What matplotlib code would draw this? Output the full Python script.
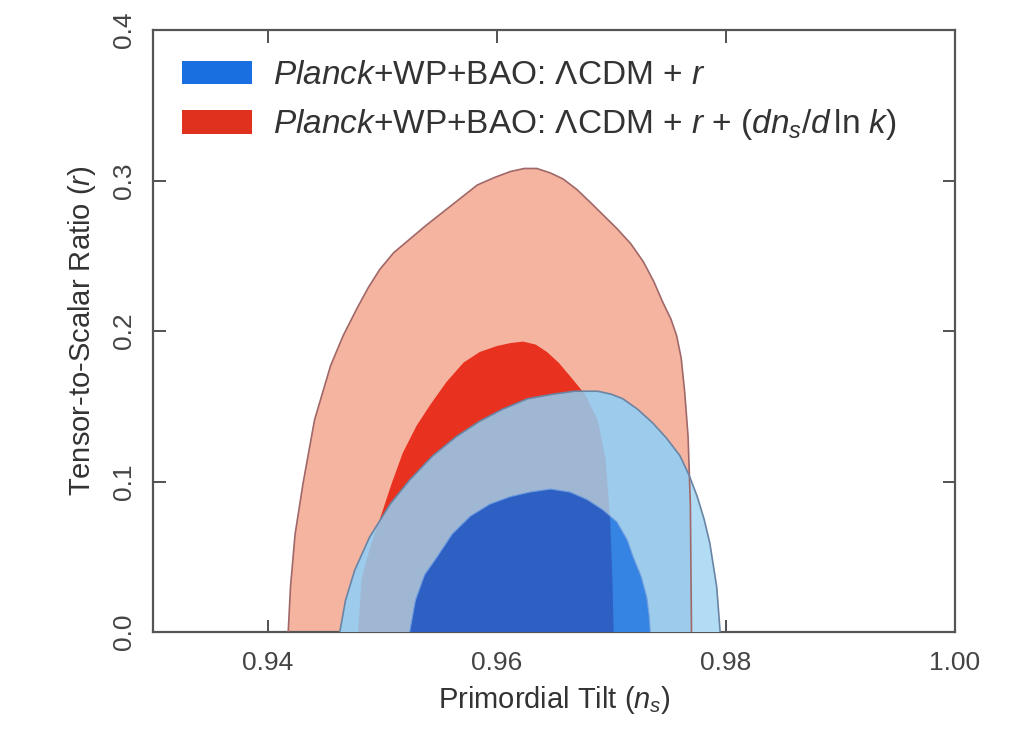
import numpy as np
import matplotlib
matplotlib.use("Agg")
import matplotlib.pyplot as plt
from matplotlib.patches import Polygon, Patch

plt.rcParams['font.family'] = ['Liberation Sans', 'DejaVu Sans']
plt.rcParams['mathtext.fontset'] = 'custom'
plt.rcParams['mathtext.rm'] = 'Liberation Sans'
plt.rcParams['mathtext.it'] = 'Liberation Sans:italic'
plt.rcParams['mathtext.bf'] = 'Liberation Sans:bold'

# contour outlines (n_s, r)
red_outer_x = [0.9418, 0.9420, 0.9424, 0.9431, 0.9441, 0.9455, 0.9466, 0.9478, 0.9488,
               0.9498, 0.9510, 0.9524, 0.9538, 0.9553, 0.9568, 0.9583, 0.9598, 0.9612,
               0.9624, 0.9635, 0.9647, 0.9658, 0.9670, 0.9681, 0.9693, 0.9705, 0.9717,
               0.9728, 0.9737, 0.9745, 0.9752, 0.9757, 0.9761, 0.9764, 0.9767, 0.9769,
               0.9770]
red_outer_y = [0.0, 0.030, 0.065, 0.099, 0.141, 0.177, 0.197, 0.215, 0.229,
               0.241, 0.252, 0.261, 0.270, 0.279, 0.288, 0.297, 0.302, 0.306,
               0.308, 0.308, 0.305, 0.301, 0.294, 0.286, 0.277, 0.268, 0.258,
               0.246, 0.233, 0.219, 0.208, 0.197, 0.182, 0.160, 0.130, 0.085,
               0.0]

red_inner_x = [0.9479, 0.9482, 0.9489, 0.9498, 0.9508, 0.9518, 0.9530, 0.9542, 0.9556,
               0.9571, 0.9585, 0.9600, 0.9612, 0.9623, 0.9634, 0.9644, 0.9654, 0.9664,
               0.9677, 0.9688, 0.9695, 0.9699, 0.9701, 0.9702]
red_inner_y = [0.0, 0.035, 0.055, 0.075, 0.098, 0.119, 0.137, 0.151, 0.166,
               0.179, 0.186, 0.190, 0.192, 0.193, 0.191, 0.186, 0.179, 0.170,
               0.158, 0.141, 0.115, 0.075, 0.035, 0.0]

blue_outer_x = [0.9463, 0.9468, 0.9476, 0.9489, 0.9507, 0.9524, 0.9544, 0.9565, 0.9585,
                0.9605, 0.9627, 0.9649, 0.9668, 0.9688, 0.9700, 0.9710, 0.9723, 0.9736,
                0.9748, 0.9760, 0.9768, 0.9775, 0.9781, 0.9786, 0.9792, 0.9795]
blue_outer_y = [0.0, 0.021, 0.041, 0.063, 0.085, 0.101, 0.117, 0.130, 0.140,
                0.148, 0.155, 0.158, 0.160, 0.160, 0.158, 0.155, 0.148, 0.139,
                0.129, 0.117, 0.104, 0.090, 0.075, 0.059, 0.030, 0.0]

blue_inner_x = [0.9524, 0.9529, 0.9537, 0.9548, 0.9561, 0.9577, 0.9594, 0.9612, 0.9629,
                0.9647, 0.9664, 0.9679, 0.9693, 0.9705, 0.9714, 0.9719, 0.9726, 0.9731,
                0.9733, 0.9734]
blue_inner_y = [0.0, 0.021, 0.038, 0.050, 0.065, 0.077, 0.085, 0.090, 0.093,
                0.095, 0.093, 0.088, 0.081, 0.073, 0.061, 0.050, 0.037, 0.023,
                0.011, 0.0]

x_ticks = [0.94, 0.96, 0.98, 1.00]
x_ticklabels = ['0.94', '0.96', '0.98', '1.00']
y_ticks = [0.0, 0.1, 0.2, 0.3, 0.4]
y_ticklabels = ['0.0', '0.1', '0.2', '0.3', '0.4']

labels = [r'$\it{Planck}$+WP+BAO: ΛCDM + $r$',
          r'$\it{Planck}$+WP+BAO: ΛCDM + $r$ + $(dn_s/d\,\ln\,k)$']

fig = plt.figure(figsize=(10.12, 7.36), dpi=100)
ax = fig.add_axes([0.1512, 0.1413, 0.7925, 0.8179])


def clip_to(xs, ys):
    return Polygon(np.column_stack([xs, ys]), closed=True, transform=ax.transData)


ax.fill(red_outer_x, red_outer_y, fc='#f5b4a0', ec='none', zorder=1)
ax.fill(red_inner_x, red_inner_y, fc='#e8321f', ec='none', zorder=2)

ax.fill(blue_outer_x, blue_outer_y, fc='#b2dbf4', ec='none', zorder=3)
p, = ax.fill(blue_outer_x, blue_outer_y, fc='#9ccbec', ec='none', zorder=4)
p.set_clip_path(clip_to(red_outer_x, red_outer_y))
p, = ax.fill(blue_outer_x, blue_outer_y, fc='#a0b7d4', ec='none', zorder=5)
p.set_clip_path(clip_to(red_inner_x, red_inner_y))

ax.fill(blue_inner_x, blue_inner_y, fc='#3583e2', ec='none', zorder=6)
p, = ax.fill(blue_inner_x, blue_inner_y, fc='#2e60c4', ec='none', zorder=7)
p.set_clip_path(clip_to(red_inner_x, red_inner_y))

ax.plot(red_outer_x, red_outer_y, color='#a06868', lw=1.2, zorder=8)
ax.plot(blue_outer_x, blue_outer_y, color='#6a84a4', lw=1.2, zorder=8)
ax.plot(blue_inner_x, blue_inner_y, color='#6f9ee0', lw=0.8, zorder=8)

ax.set_xlim(0.93, 1.00)
ax.set_ylim(0.0, 0.4)
ax.set_xticks(x_ticks)
ax.set_xticklabels(x_ticklabels)
ax.set_yticks(y_ticks)
ax.set_yticklabels(y_ticklabels, rotation=90, va='center')
ax.tick_params(direction='in', length=9, width=1.3, colors='#444', labelsize=19,
               top=True, right=True, pad=14)
ax.tick_params(axis='y', pad=12)
for s in ax.spines.values():
    s.set_color('#555')
    s.set_linewidth(1.6)

ax.set_xlabel(r'Primordial Tilt $(n_s)$', fontsize=21, color='#333', labelpad=6)
ax.set_ylabel(r'Tensor-to-Scalar Ratio $(r)$', fontsize=21, color='#333', labelpad=10)

handles = [Patch(fc='#1a6fe0', ec='none'), Patch(fc='#e0301e', ec='none')]
leg = ax.legend(handles, labels, loc='upper left', bbox_to_anchor=(0.036, 0.950),
                frameon=False, fontsize=24, borderpad=0, handlelength=2.1,
                handleheight=0.72, handletextpad=0.62, labelspacing=0.49,
                borderaxespad=0)
for t in leg.get_texts():
    t.set_color('#333')

fig.savefig('out.png', dpi=100)
